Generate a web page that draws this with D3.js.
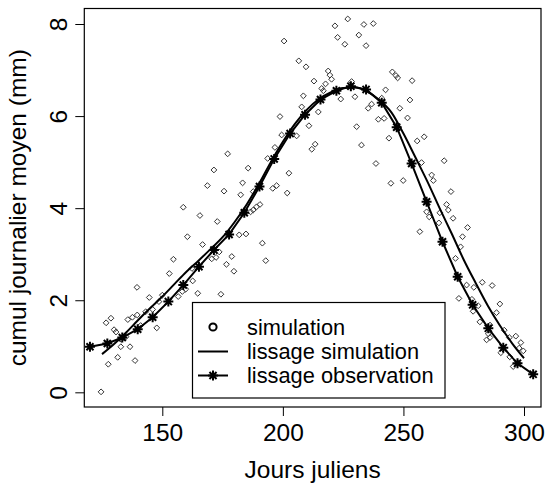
<!DOCTYPE html>
<html>
<head>
<meta charset="utf-8">
<script src="https://cdn.jsdelivr.net/npm/d3@7"></script>
<style>
body { margin: 0; background: #fff; }
text { font-family: "Liberation Sans", Arial, sans-serif; fill: #000; }
</style>
</head>
<body>
<svg width="545" height="486"></svg>
<script>

// simulated daily values (Julian day, mm)
var simDays = [124.6, 126.7, 127.6, 128.7, 130.0, 130.8, 131.5, 132.8, 133.0, 135.0, 135.7, 136.6, 137.6, 138.7, 139.5, 139.6,
  141.0, 143.1, 144.6, 146.0, 147.7, 148.6, 150.0, 152.9, 154.6, 156.6, 158.3, 158.7, 159.7, 160.4, 162.3, 162.6,
  164.7, 165.6, 166.7, 168.7, 170.5, 171.4, 172.3, 172.8, 173.6, 174.3, 175.6, 176.6, 177.1, 178.8, 179.7, 181.9,
  182.5, 183.3, 184.7, 185.6, 186.6, 187.7, 187.7, 189.1, 190.5, 191.5, 192.9, 193.7, 195.8, 196.7, 197.4, 198.8,
  199.5, 200.5, 201.8, 202.5, 205.7, 206.6, 207.8, 208.5, 209.6, 210.8, 212.0, 212.9, 213.4, 214.7, 216.1, 216.8,
  217.7, 218.8, 219.5, 220.2, 221.6, 222.7, 224.0, 225.7, 226.9, 228.5, 229.9, 230.6, 231.5, 232.6, 233.6, 234.5,
  235.4, 236.8, 237.5, 238.6, 239.6, 241.0, 242.0, 242.6, 244.0, 244.8, 245.4, 246.9, 247.6, 248.5, 249.9, 251.7,
  252.7, 253.6, 255.7, 256.8, 257.5, 258.6, 259.6, 260.7, 261.7, 262.4, 264.7, 265.1, 266.9, 267.9, 268.6, 269.7,
  270.6, 271.6, 273.0, 273.7, 274.5, 276.2, 276.6, 278.4, 278.9, 279.2, 281.0, 281.7, 282.7, 284.5, 285.2, 285.9,
  285.9, 286.8, 288.6, 290.0, 290.4, 291.8, 293.9, 294.1, 295.5, 296.6, 297.6, 298.0, 298.7, 299.7];
var simValues = [0.01, 1.51, 0.61, 1.61, 1.36, 1.31, 0.76, 0.99, 1.15, 1.21, 1.58, 0.99, 1.63, 0.69, 2.28, 1.68,
  1.45, 1.75, 2.06, 1.80, 1.40, 1.97, 2.11, 2.58, 2.89, 2.08, 2.19, 4.02, 2.24, 3.38, 2.69, 2.42,
  2.15, 3.84, 3.21, 4.49, 2.90, 4.83, 2.93, 3.71, 3.05, 2.13, 4.37, 2.78, 5.18, 2.95, 2.63, 3.42,
  4.29, 4.55, 3.44, 4.87, 3.92, 3.96, 4.36, 4.03, 4.08, 3.24, 2.86, 5.08, 4.43, 5.32, 4.49, 5.99,
  5.59, 7.63, 4.33, 4.76, 5.57, 7.20, 6.20, 6.44, 7.07, 5.79, 5.28, 6.76, 5.39, 6.09, 6.60, 6.55,
  6.70, 6.98, 6.89, 6.80, 7.96, 7.71, 6.37, 7.56, 8.11, 6.75, 6.42, 5.77, 7.76, 5.37, 7.99, 7.53,
  6.17, 6.26, 8.01, 4.97, 5.93, 6.39, 5.95, 6.57, 5.52, 4.54, 6.96, 6.88, 6.83, 6.17, 4.60, 5.96,
  6.35, 6.77, 5.46, 3.49, 4.99, 5.55, 3.92, 3.81, 4.72, 4.60, 3.68, 3.90, 5.03, 4.08, 3.96, 4.36,
  3.78, 2.91, 2.04, 3.16, 3.38, 2.33, 3.58, 2.02, 1.76, 2.28, 1.88, 1.53, 2.39, 1.14, 1.27, 1.19,
  1.46, 2.32, 1.73, 1.92, 0.86, 1.35, 1.19, 0.77, 0.56, 1.22, 0.63, 0.96, 1.08, 0.90];

// smoothed simulation
var simSmoothDays = [125, 130, 135, 140, 145, 150, 155, 160, 165, 170, 175, 180, 185, 190, 195, 200, 205, 210,
  215, 220, 225, 230, 235, 240, 245, 250, 255, 260, 265, 270, 275, 280, 285, 290, 295, 300];
var simSmoothValues = [0.83, 1.05, 1.30, 1.57, 1.83, 2.08, 2.35, 2.62, 2.86, 3.11, 3.37, 3.70, 4.08, 4.52, 5.00, 5.44, 5.83, 6.14,
  6.37, 6.52, 6.61, 6.62, 6.53, 6.35, 6.08, 5.62, 5.10, 4.57, 4.00, 3.45, 2.88, 2.37, 1.88, 1.45, 1.07, 0.74];

// smoothed observation
var obsSmoothDays = [120, 127.2, 133.4, 139.8, 146, 152.5, 158.7, 165.2, 171.4, 177.7, 184, 190.3, 196.4, 203, 209.2,
  215.6, 222.2, 228.2, 234.5, 241, 247.2, 253.4, 259.6, 266.2, 272.5, 278.7, 285.2, 291.4, 297.3, 303.8];
var obsSmoothValues = [0.99, 1.06, 1.19, 1.37, 1.63, 1.97, 2.33, 2.73, 3.09, 3.43, 3.90, 4.47, 5.07, 5.62, 6.03,
  6.36, 6.55, 6.65, 6.58, 6.29, 5.76, 4.97, 4.14, 3.27, 2.51, 1.90, 1.39, 0.97, 0.63, 0.39];

var xTicks = [150, 200, 250, 300];
var yTicks = [0, 2, 4, 6, 8];
var legendLabels = ["simulation", "lissage simulation", "lissage observation"];

var svg = d3.select("svg"),
    plotL = 84.3, plotR = 541, plotT = 8.5, plotB = 407;

var x = d3.scaleLinear().domain([117.65, 307.05]).range([plotL, plotR]);
var y = d3.scaleLinear().domain([-0.319, 8.337]).range([plotB, plotT]);

var diamond = "M0,-2.9L2.9,0L0,2.9L-2.9,0Z";
var star = "M-5,0L5,0M0,-5L0,5M-3.54,-3.54L3.54,3.54M-3.54,3.54L3.54,-3.54";

// axes
var xAxis = svg.append("g")
    .attr("transform", "translate(0," + plotB + ")")
    .call(d3.axisBottom(x).tickValues(xTicks).tickSize(9).tickPadding(8).tickFormat(d3.format("d")));
xAxis.select(".domain").remove();
xAxis.selectAll("line").attr("stroke", "#000");
xAxis.selectAll("text").attr("font-size", 24.5).attr("font-family", null);

var yAxis = svg.append("g")
    .attr("transform", "translate(" + plotL + ",0)")
    .call(d3.axisLeft(y).tickValues(yTicks).tickSize(9).tickFormat(d3.format("d")));
yAxis.select(".domain").remove();
yAxis.selectAll("line").attr("stroke", "#000");
yAxis.selectAll("text")
    .attr("font-size", 24.5)
    .attr("font-family", null)
    .attr("transform", "rotate(-90)")
    .attr("x", 0)
    .attr("y", -17.5)
    .attr("dy", null)
    .attr("text-anchor", "middle");

svg.append("text")
    .attr("x", (plotL + plotR) / 2)
    .attr("y", 478)
    .attr("text-anchor", "middle")
    .attr("font-size", 24.5)
    .text("Jours juliens");

svg.append("text")
    .attr("transform", "translate(26," + (plotT + plotB) / 2 + ") rotate(-90)")
    .attr("text-anchor", "middle")
    .attr("font-size", 24.5)
    .text("cumul journalier moyen (mm)");

// scatter
var pts = d3.zip(simDays, simValues);
svg.append("g").selectAll("path")
    .data(pts)
    .enter().append("path")
    .attr("d", diamond)
    .attr("transform", function(d) { return "translate(" + x(d[0]) + "," + y(d[1]) + ")"; })
    .attr("fill", "none")
    .attr("stroke", "#333")
    .attr("stroke-width", 1);

// smoothing lines
var line = d3.line()
    .x(function(d) { return x(d[0]); })
    .y(function(d) { return y(d[1]); });

svg.append("path")
    .datum(d3.zip(simSmoothDays, simSmoothValues))
    .attr("d", line.curve(d3.curveMonotoneX))
    .attr("fill", "none")
    .attr("stroke", "#000")
    .attr("stroke-width", 2);

var obs = d3.zip(obsSmoothDays, obsSmoothValues);
svg.append("path")
    .datum(obs)
    .attr("d", line.curve(d3.curveLinear))
    .attr("fill", "none")
    .attr("stroke", "#000")
    .attr("stroke-width", 2);

svg.append("g").selectAll("path")
    .data(obs)
    .enter().append("path")
    .attr("d", star)
    .attr("transform", function(d) { return "translate(" + x(d[0]) + "," + y(d[1]) + ")"; })
    .attr("stroke", "#000")
    .attr("stroke-width", 2);

// box
svg.append("rect")
    .attr("x", plotL).attr("y", plotT)
    .attr("width", plotR - plotL).attr("height", plotB - plotT)
    .attr("fill", "none")
    .attr("stroke", "#000")
    .attr("stroke-width", 1.2);

// legend
var legend = svg.append("g");
legend.append("rect")
    .attr("x", 192.5).attr("y", 302.5)
    .attr("width", 252.5).attr("height", 95.5)
    .attr("fill", "#fff")
    .attr("stroke", "#000")
    .attr("stroke-width", 1.2);

var rows = [327, 351.5, 375.5];
legend.append("circle")
    .attr("cx", 213).attr("cy", rows[0]).attr("r", 3.6)
    .attr("fill", "none").attr("stroke", "#000").attr("stroke-width", 2);
legend.append("line")
    .attr("x1", 198).attr("x2", 228).attr("y1", rows[1]).attr("y2", rows[1])
    .attr("stroke", "#000").attr("stroke-width", 2);
legend.append("line")
    .attr("x1", 198).attr("x2", 228).attr("y1", rows[2]).attr("y2", rows[2])
    .attr("stroke", "#000").attr("stroke-width", 2);
legend.append("path")
    .attr("d", star)
    .attr("transform", "translate(213," + rows[2] + ")")
    .attr("stroke", "#000").attr("stroke-width", 2);

legend.selectAll("text.lab")
    .data(legendLabels)
    .enter().append("text")
    .attr("class", "lab")
    .attr("x", 247)
    .attr("y", function(d, i) { return rows[i] + 7.5; })
    .attr("font-size", 21.8)
    .text(function(d) { return d; });

</script>
</body>
</html>
